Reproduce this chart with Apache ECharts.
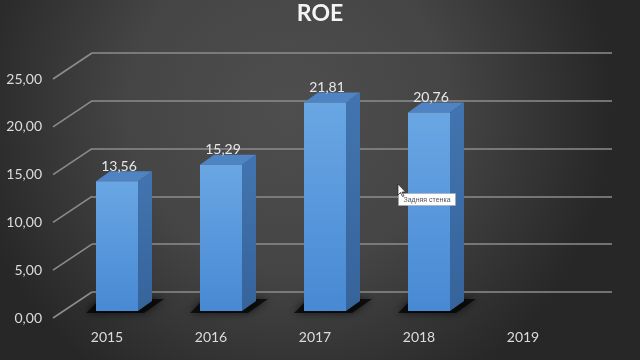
<!DOCTYPE html>
<html>
<head>
<meta charset="utf-8">
<style>
html,body{margin:0;padding:0;background:#3a3a3a;}
#chart{width:640px;height:360px;}
</style>
<script src="https://cdn.jsdelivr.net/npm/echarts@6/dist/echarts.min.js"></script>
</head>
<body>
<div id="chart"></div>
<script>
const categories = ['2015', '2016', '2017', '2018', '2019'];
const roeValues = [13.56, 15.29, 21.81, 20.76, null];
const yTicks = [0, 5, 10, 15, 20, 25];
const titleText = 'ROE';
const hoverTipText = 'Задняя стенка';

const fmt = v => v.toFixed(2).replace('.', ',');
const FONT = 'Lato, "Open Sans", sans-serif';

const chart = echarts.init(document.getElementById('chart'));

const wallDX = 37, wallDY = -26;   // depth of the back wall
const barOX = 10, barOY = -7;      // bars sit mid-depth
const barW = 42, barDX = 14, barDY = -10;

chart.setOption({
  backgroundColor: new echarts.graphic.RadialGradient(0.45, 0.3, 0.9, [
    { offset: 0, color: '#4e4e4e' },
    { offset: 0.5, color: '#454545' },
    { offset: 1, color: '#272727' }
  ]),
  title: {
    text: titleText, left: 'center', top: -3,
    textStyle: { color: '#f4f4f4', fontSize: 23, fontWeight: 'bold', fontFamily: FONT }
  },
  grid: [
    { left: 92, right: 28, top: 53, bottom: 68 },
    { left: 55, right: 65, top: 79, bottom: 42 }
  ],
  xAxis: [
    { gridIndex: 0, type: 'category', data: categories, show: false },
    {
      gridIndex: 1, type: 'category', data: categories,
      axisLine: { show: false }, axisTick: { show: false },
      axisLabel: { color: '#dcdcdc', fontSize: 14, margin: 12, fontFamily: FONT }
    }
  ],
  yAxis: [
    {
      gridIndex: 0, type: 'value', min: 0, max: 25, interval: 5,
      axisLabel: { show: false }, axisLine: { show: false }, axisTick: { show: false },
      splitLine: { show: true, lineStyle: { color: '#8c8c8c', width: 1.6 } }
    },
    {
      gridIndex: 1, type: 'value', min: 0, max: 25, interval: 5,
      axisLine: { show: false }, axisTick: { show: false }, splitLine: { show: false },
      axisLabel: { color: '#dcdcdc', fontSize: 14, margin: 13, fontFamily: FONT, formatter: v => fmt(v) }
    }
  ],
  series: [
    {
      type: 'custom', name: 'wallEdges', xAxisIndex: 1, yAxisIndex: 1, silent: true,
      data: yTicks.map(v => [0, v]),
      renderItem: (params, api) => {
        const p = api.coord([0, api.value(1)]);
        const half = api.size([1, 0])[0] / 2;
        const x0 = p[0] - half - 2;
        return {
          type: 'line',
          shape: { x1: x0, y1: p[1], x2: x0 + wallDX + 2, y2: p[1] + wallDY },
          style: { stroke: '#8c8c8c', lineWidth: 1.6 }
        };
      }
    },
    {
      type: 'custom', name: 'ROE', xAxisIndex: 1, yAxisIndex: 1, silent: true,
      data: roeValues.map((v, i) => [i, v]),
      renderItem: (params, api) => {
        const v = api.value(1);
        if (v == null || isNaN(v)) return null;
        const top = api.coord([api.value(0), v]);
        const base = api.coord([api.value(0), 0]);
        const cx = top[0] + barOX;
        const x1 = cx - barW / 2, x2 = cx + barW / 2;
        const yT = top[1] + barOY, yB = base[1] + barOY;
        return {
          type: 'group',
          children: [
            {
              type: 'polygon',
              shape: { points: [[x1 - 10, yB + 2], [x2 + 6, yB + 2], [x2 + 26, yB - 12], [x1 + 4, yB - 12]] },
              style: { fill: 'rgba(0,0,0,0.7)', shadowBlur: 8, shadowColor: 'rgba(0,0,0,0.9)' }
            },
            {
              type: 'polygon',
              shape: { points: [[x2, yT], [x2 + barDX, yT + barDY], [x2 + barDX, yB + barDY], [x2, yB]] },
              style: { fill: new echarts.graphic.LinearGradient(0, 0, 0, 1, [
                { offset: 0, color: '#4275b0' }, { offset: 1, color: '#36639a' }]) }
            },
            {
              type: 'polygon',
              shape: { points: [[x1, yT], [x1 + barDX, yT + barDY], [x2 + barDX, yT + barDY], [x2, yT]] },
              style: { fill: '#4f83c2' }
            },
            {
              type: 'rect',
              shape: { x: x1, y: yT, width: barW, height: yB - yT },
              style: { fill: new echarts.graphic.LinearGradient(0, 0, 0, 1, [
                { offset: 0, color: '#69a6e3' }, { offset: 1, color: '#4889d4' }]) }
            },
            {
              type: 'text',
              style: {
                x: cx + 2, y: yT - 15, text: fmt(v), fill: '#e8e8e8',
                fontSize: 14, fontFamily: FONT, align: 'center', verticalAlign: 'middle'
              }
            }
          ]
        };
      }
    }
  ],
  graphic: {
    elements: [
      {
        type: 'rect', z: 100, x: 0, y: 0,
        shape: { x: 398.5, y: 193.5, width: 57, height: 12 },
        style: { fill: '#ffffff', stroke: '#a0a0a0', lineWidth: 0.5 }
      },
      {
        type: 'text', z: 101, x: 0, y: 0,
        style: { x: 427, y: 200, text: hoverTipText, fontSize: 7,
          fontFamily: '"Liberation Sans", Arial, sans-serif', fill: '#555555',
          align: 'center', verticalAlign: 'middle' }
      },
      {
        type: 'polygon', z: 102, x: 0, y: 0,
        shape: { points: [[398, 184], [398, 195], [400.5, 192.5], [402.5, 196.5], [404, 196], [402, 192], [405.5, 192]] },
        style: { fill: '#ffffff', stroke: '#222222', lineWidth: 0.7 }
      }
    ]
  }
});
</script>
</body>
</html>
